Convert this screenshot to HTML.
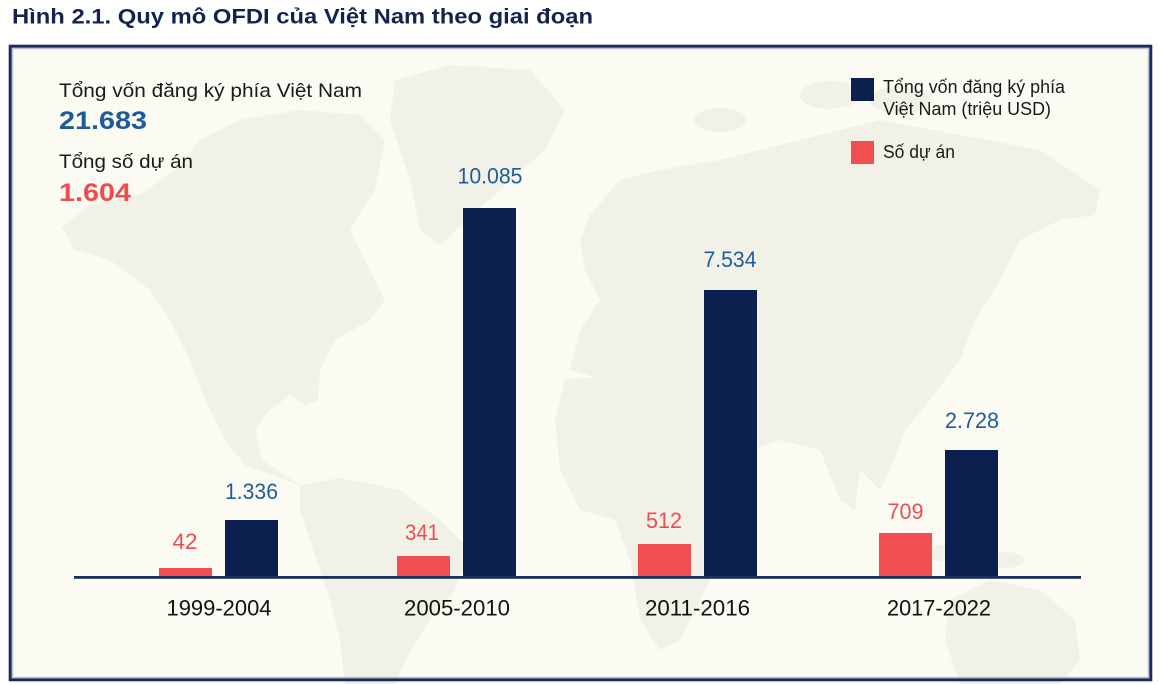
<!DOCTYPE html>
<html>
<head>
<meta charset="utf-8">
<style>
html,body{margin:0;padding:0;background:#ffffff;}
svg{display:block;}
text{font-family:"Liberation Sans","DejaVu Sans",sans-serif;}
</style>
</head>
<body>
<svg width="1163" height="685" viewBox="0 0 1163 685" xmlns="http://www.w3.org/2000/svg">
  <rect x="0" y="0" width="1163" height="685" fill="#ffffff"/>
  <!-- Title -->
  <text x="12" y="23.5" font-size="21" font-weight="bold" fill="#13234f" textLength="581" lengthAdjust="spacingAndGlyphs">Hình 2.1. Quy mô OFDI của Việt Nam theo giai đoạn</text>

  <!-- Frame background -->
  <rect x="10" y="46" width="1141" height="634" fill="#fbfbf3"/>

  <!-- World map (subtle) -->
  <g fill="#f1f1e8">
    <path d="M62,227 L90,205 L140,195 L175,170 L200,140 L240,120 L300,110 L360,115 L385,140 L375,190 L350,230 L365,260 L385,300 L370,320 L335,340 L320,370 L318,400 L305,405 L290,395 L270,410 L255,430 L262,460 L285,475 L300,485 L280,478 L245,465 L225,440 L205,400 L190,360 L170,320 L150,290 L110,260 L75,250 Z"/>
    <path d="M395,80 L450,65 L530,70 L565,110 L545,150 L500,190 L440,245 L420,230 L410,180 L390,120 Z"/>
    <path d="M300,485 L340,478 L400,490 L440,520 L470,550 L455,590 L430,620 L405,660 L395,684 L345,684 L340,640 L330,600 L310,540 L300,510 Z"/>
    <path d="M590,215 L620,180 L660,170 L720,160 L800,140 L880,120 L960,135 L1040,150 L1100,190 L1095,215 L1060,220 L1020,240 L1000,280 L975,320 L960,360 L930,400 L905,430 L890,470 L880,490 L860,470 L855,510 L840,500 L820,450 L780,440 L750,450 L720,480 L690,470 L670,440 L640,420 L620,400 L605,380 L570,370 L580,330 L600,300 L585,270 L580,240 Z"/>
    <path d="M565,380 L620,375 L660,400 L700,430 L720,470 L745,480 L740,520 L720,560 L700,600 L680,640 L660,650 L640,620 L630,560 L615,520 L580,510 L560,470 L555,420 Z"/>
    <ellipse cx="900" cy="545" rx="18" ry="8"/>
    <ellipse cx="950" cy="553" rx="22" ry="9"/>
    <ellipse cx="1005" cy="560" rx="20" ry="8"/>
    <path d="M950,600 L990,580 L1040,590 L1075,620 L1080,660 L1060,684 L960,684 L945,640 Z"/>
    <ellipse cx="830" cy="95" rx="30" ry="14"/>
    <ellipse cx="900" cy="100" rx="30" ry="14"/>
    <ellipse cx="720" cy="120" rx="26" ry="12"/>
  </g>

  <!-- Frame borders -->
  <rect x="10.2" y="46.2" width="1140.6" height="633.6" fill="none" stroke="#1b2a56" stroke-width="3"/>
  <rect x="12.7" y="48.7" width="1135.6" height="628.6" fill="none" stroke="#a9b6cc" stroke-width="1"/>

  <!-- Top-left summary -->
  <text x="59" y="97" font-size="19.5" fill="#1a1a1a" textLength="303" lengthAdjust="spacingAndGlyphs">Tổng vốn đăng ký phía Việt Nam</text>
  <text x="59" y="129" font-size="25" font-weight="bold" fill="#1d5b9b" textLength="88" lengthAdjust="spacingAndGlyphs">21.683</text>
  <text x="59" y="168" font-size="19.5" fill="#1a1a1a" textLength="134" lengthAdjust="spacingAndGlyphs">Tổng số dự án</text>
  <text x="59" y="201" font-size="25" font-weight="bold" fill="#ef4c4f" textLength="72" lengthAdjust="spacingAndGlyphs">1.604</text>

  <!-- Legend -->
  <rect x="851" y="78" width="23" height="23" fill="#0c2050"/>
  <text x="883" y="93" font-size="18" fill="#1a1a1a" textLength="182" lengthAdjust="spacingAndGlyphs">Tổng vốn đăng ký phía</text>
  <text x="883" y="115" font-size="18" fill="#1a1a1a" textLength="168" lengthAdjust="spacingAndGlyphs">Việt Nam (triệu USD)</text>
  <rect x="851" y="141" width="23" height="23" fill="#f04e51"/>
  <text x="883" y="158" font-size="18" fill="#1a1a1a" textLength="72" lengthAdjust="spacingAndGlyphs">Số dự án</text>

  <!-- Bars -->
  <g fill="#f04e51">
    <rect x="159" y="568" width="53" height="10"/>
    <rect x="397" y="556" width="53" height="22"/>
    <rect x="638" y="544" width="53" height="34"/>
    <rect x="879" y="533" width="53" height="45"/>
  </g>
  <g fill="#0c2050">
    <rect x="225" y="520" width="53" height="58"/>
    <rect x="463" y="208" width="53" height="370"/>
    <rect x="704" y="290" width="53" height="288"/>
    <rect x="945" y="450" width="53" height="128"/>
  </g>

  <!-- Baseline -->
  <rect x="74" y="576" width="1007" height="2.8" fill="#1c2f5a"/>

  <!-- Value labels -->
  <g font-size="22" text-anchor="middle">
    <text x="185" y="549" fill="#ef4c4f" textLength="25" lengthAdjust="spacingAndGlyphs">42</text>
    <text x="251.5" y="499" fill="#1f5c99" textLength="53" lengthAdjust="spacingAndGlyphs">1.336</text>
    <text x="422" y="540" fill="#ef4c4f" textLength="34" lengthAdjust="spacingAndGlyphs">341</text>
    <text x="490" y="183.5" fill="#1f5c99" textLength="65" lengthAdjust="spacingAndGlyphs">10.085</text>
    <text x="664" y="528" fill="#ef4c4f" textLength="36" lengthAdjust="spacingAndGlyphs">512</text>
    <text x="730" y="267" fill="#1f5c99" textLength="53" lengthAdjust="spacingAndGlyphs">7.534</text>
    <text x="905.5" y="519" fill="#ef4c4f" textLength="36" lengthAdjust="spacingAndGlyphs">709</text>
    <text x="972" y="428" fill="#1f5c99" textLength="54" lengthAdjust="spacingAndGlyphs">2.728</text>
  </g>

  <!-- Category labels -->
  <g font-size="22" text-anchor="middle" fill="#111111">
    <text x="219" y="615.5" textLength="105" lengthAdjust="spacingAndGlyphs">1999-2004</text>
    <text x="457" y="615.5" textLength="106" lengthAdjust="spacingAndGlyphs">2005-2010</text>
    <text x="697.5" y="615.5" textLength="105" lengthAdjust="spacingAndGlyphs">2011-2016</text>
    <text x="939" y="615.5" textLength="104" lengthAdjust="spacingAndGlyphs">2017-2022</text>
  </g>
</svg>
</body>
</html>
